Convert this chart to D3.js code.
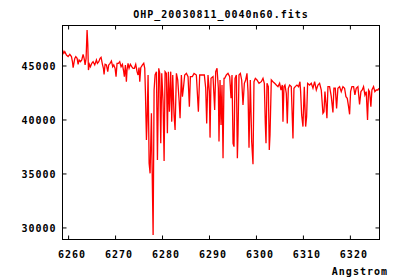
<!DOCTYPE html>
<html><head><meta charset="utf-8">
<script src="https://cdn.jsdelivr.net/npm/d3@7"></script>
<style>
html,body{margin:0;padding:0;background:#fff;}
svg{display:block;}
text{font-family:"DejaVu Sans Mono","Liberation Mono",monospace;font-weight:bold;font-size:10px;letter-spacing:1px;fill:#000;}
</style></head><body>
<svg id="c" width="400" height="280"></svg>
<script>
const title = "OHP_20030811_0040n60.fits";
const xLabel = "Angstrom";
const xTicks = [6260, 6270, 6280, 6290, 6300, 6310, 6320];
const yTicks = [30000, 35000, 40000, 45000];
const xDomain = [6258.7, 6326.2];
const yDomain = [28930, 48750];

const wavelength = [
6258.80,6259.08,6259.29,6259.65,6260.00,6260.36,6260.71,6260.92,6261.07,6261.42,
6261.63,6261.92,6262.13,6262.34,6262.63,6262.91,6263.19,6263.41,6263.62,6263.83,
6264.04,6264.19,6264.33,6264.54,6264.75,6265.04,6265.32,6265.67,6266.03,6266.24,
6266.53,6266.81,6267.02,6267.31,6267.52,6267.66,6267.87,6268.16,6268.44,6268.65,
6268.94,6269.22,6269.50,6269.72,6270.00,6270.21,6270.42,6270.71,6270.99,6271.28,
6271.56,6271.84,6271.98,6272.20,6272.41,6272.55,6272.76,6272.98,6273.26,6273.54,
6273.83,6274.11,6274.40,6274.68,6274.89,6275.10,
6275.26,6275.47,6275.83,6276.11,6276.32,6276.47,6276.68,6276.82,6277.03,6277.25,
6277.46,6277.74,6277.88,6278.10,6278.31,6278.52,6278.81,6279.02,6279.30,6279.51,
6279.73,6279.94,6280.22,6280.44,6280.65,6280.93,6281.14,6281.36,6281.57,6281.85,
6282.07,6282.28,6282.56,6282.78,6283.06,6283.34,6283.63,6283.84,6284.12,6284.34,
6284.55,6284.83,6285.19,6285.54,6285.82,6286.04,6286.46,6286.82,6287.31,6287.74,
6288.02,6288.45,6289.01,6289.30,6289.51,6289.79,6290.08,6290.22,6290.43,6290.86,
6291.21,6291.43,6291.71,6291.99,6292.13,6292.35,6292.56,6292.77,6292.99,6293.20,
6293.34,6293.70,6294.05,6294.41,6294.69,6294.90,6295.12,6295.33,6295.54,6295.83,
6296.04,6296.18,6296.39,6296.68,6296.96,6297.24,6297.53,6297.81,6298.09,6298.31,
6298.52,6298.80,6299.09,6299.37,6299.58,6299.87,6300.22,6300.65,6301.14,6301.50,
6301.78,6301.99,6302.14,6302.35,6302.63,6302.84,6302.99,6303.27,6303.62,6303.98,
6304.33,6304.69,6305.04,6305.33,6305.61,6305.75,6305.96,6306.18,6306.46,6306.67,
6306.89,6307.17,6307.52,6307.88,6308.09,6308.37,6308.73,6309.08,6309.37,
6309.51,6309.73,6310.01,6310.29,6310.58,6310.79,6311.00,6311.43,6311.78,6312.14,
6312.49,6312.85,6313.20,6313.55,6313.91,6314.26,6314.48,6314.69,6314.90,6315.11,
6315.33,6315.68,6316.04,6316.39,6316.60,6316.89,6317.17,6317.45,6317.81,6318.16,
6318.52,6318.87,6319.16,6319.44,6319.72,6319.94,6320.15,6320.43,6320.79,6321.07,
6321.35,6321.71,6322.06,6322.35,6322.63,6322.91,6323.20,6323.48,6323.76,6323.98,
6324.19,6324.47,6324.69,6325.04,6325.32,6325.61,6325.96,6326.17
];
const flux = [
46430,46130,46280,45970,45820,46030,45820,45350,44800,45660,
45820,45660,45110,45510,45350,45510,46030,45660,45050,45660,
48290,46960,44580,45110,44890,45200,45350,45050,45510,45200,
45350,45660,45760,45110,44740,44180,45110,45050,44430,45050,
45200,45420,44890,45050,44740,43970,45200,45200,45350,44890,
45110,44430,43970,45050,43500,44580,45200,44740,45110,44890,
44740,44740,45110,44430,44120,44800,
43500,44800,45050,45200,44740,42420,38100,39800,44120,35940,
35010,40570,35790,29300,42730,44120,44430,36250,44740,44270,
37790,44270,41650,36160,44430,44270,38720,44430,40720,44430,
39800,44120,40420,39030,44270,43660,41800,40110,44120,42110,
42890,44120,44270,43970,41190,43970,43970,44270,44120,40720,
44120,44120,44120,42890,39640,44120,42580,38320,43810,43970,
40880,44430,44740,42890,37950,43660,39490,43190,36400,43810,
43810,44120,44270,43970,41960,44120,37790,37480,43810,44120,
36400,38720,44120,44270,43660,41340,43350,43660,44270,42580,
37390,43660,37950,35850,43500,43810,43660,43350,43500,43810,
43350,39640,37790,43350,43040,37170,38560,43660,43500,43350,
43190,43040,43350,42730,43190,39800,43040,43190,42420,39640,
42890,43190,43040,38250,42890,43040,43190,43040,43500,
42580,40420,39340,43040,39340,40260,43350,43190,43350,42890,
43500,42730,43190,43350,42730,40570,40720,42580,41500,40110,
43040,43040,42110,40660,42890,42890,41030,42890,43040,42580,
43040,42890,42110,41960,41190,40480,42580,43040,43040,42270,
42890,43040,41400,42580,42730,43040,42270,42580,39950,42730,
42580,41190,42730,43040,42580,42730,42730,42890
];

const L = 62, R = 379, T = 25, B = 239;
const svg = d3.select("#c");
const x = d3.scaleLinear().domain(xDomain).range([L, R]);
const y = d3.scaleLinear().domain(yDomain).range([B, T]);

svg.append("defs").append("clipPath").attr("id","clip")
  .append("rect").attr("x",L).attr("y",T).attr("width",R-L).attr("height",B-T);

const data = wavelength.map((w,i)=>[w, flux[i]]);
svg.append("path").datum(data)
  .attr("clip-path","url(#clip)")
  .attr("fill","none").attr("stroke","#ff0000").attr("stroke-width",1.3)
  .attr("d", d3.line().x(d=>x(d[0])).y(d=>y(d[1])));

function styleAxis(g){
  g.select(".domain").remove();
  g.selectAll(".tick line").attr("stroke","#000").attr("stroke-width",1);
}
// bottom
svg.append("g").attr("transform",`translate(0,${B+0.5})`)
  .call(d3.axisBottom(x).tickValues(xTicks).tickSize(-4).tickFormat(d3.format("d")))
  .call(styleAxis)
  .call(g=>g.selectAll("text").attr("y",11).attr("dx",3.5).attr("font-size",null).attr("font-family",null));
// top mirror
svg.append("g").attr("transform",`translate(0,${T+0.5})`)
  .call(d3.axisTop(x).tickValues(xTicks).tickSize(-4).tickFormat(""))
  .call(styleAxis);
// left
svg.append("g").attr("transform",`translate(${L+0.5},0)`)
  .call(d3.axisLeft(y).tickValues(yTicks).tickSize(-4).tickFormat(d3.format("d")))
  .call(styleAxis)
  .call(g=>g.selectAll("text").attr("x",-6).attr("dy","0.36em").attr("font-size",null).attr("font-family",null));
// right mirror
svg.append("g").attr("transform",`translate(${R+0.5},0)`)
  .call(d3.axisRight(y).tickValues(yTicks).tickSize(-4).tickFormat(""))
  .call(styleAxis);

svg.append("rect").attr("x",L+0.5).attr("y",T+0.5).attr("width",R-L).attr("height",B-T)
  .attr("fill","none").attr("stroke","#000").attr("stroke-width",1);

svg.append("text").attr("x",(L+R)/2+0.5).attr("y",17.5).attr("text-anchor","middle").text(title);
svg.append("text").attr("x",388).attr("y",275).attr("text-anchor","end").text(xLabel);
</script>
</body></html>
